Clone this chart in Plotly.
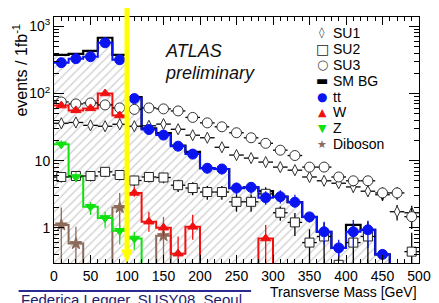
import plotly.graph_objects as go

# ---------------- data (20 GeV bins, 0-500 GeV) ----------------
edges = list(range(0, 520, 20))
centers = [e + 10 for e in edges[:-1]]

su1 = [36, 37, 33.5, 32.5, 34.8, 32.5, 33, 35, 29.3, 23.9, 21.9, 15.8, 12.1, 10.9,
       9.5, 8.0, 7.2, 5.7, 5.0, 4.6, 4.05, 3.5, 3.1, 1.73, 1.67]
su1_err = [2, 2, 2, 2, 2, 2, 2, 2, 2, 1.8, 1.7, 1.4, 1.2, 1.2, 1.1, 1.0, 0.9, 0.8,
           0.8, 0.7, 0.7, 0.6, 0.6, 0.45, 0.45]

su2 = [5.7, 5.9, 5.9, 6.8, 6.1, 5.05, 5.7, 5.6, 4.3, 3.9, 3.4, 3.4, 2.43, 2.43,
       3.2, 1.67, 1.2, 0.6, 0.74, 0.28, 0.6, 0.74, 0, 0, 0.44]
su2_err = [1.0, 1.0, 1.0, 1.1, 1.0, 0.9, 1.0, 1.0, 0.9, 0.85, 0.8, 0.8, 0.7, 0.7,
           0.8, 0.4, 0.45, 0.35, 0.45, 0.25, 0.5, 0.5, 0, 0, 0.4]

su3 = [74.8, 69.9, 72.3, 67.6, 61, 58, 61, 59, 55, 44, 36.5, 31.9, 26, 21.9, 18.1,
       14.3, 11.9, 8.0, 8.0, 5.7, 5.0, 5.0, 3.3, 3.3, 1.46]
su3_err = [3, 3, 3, 3, 3, 3, 3, 3, 3, 2.7, 2.4, 2.2, 2, 1.8, 1.6, 1.5, 1.3, 1.1,
           1.1, 0.9, 0.9, 0.9, 0.7, 0.7, 0.5]

sm_bg = [377, 390, 433, 677, 377, 88, 30.2, 25.8, 16.8, 13.5, 7.7, 7.5, 3.9, 4.0,
         3.5, 2.9, 2.4, 1.45, 0.87, 0.5, 1.1, 0.93, 0.40, 0, 0]

tt = [288, 330, 353, 570, 318, 84, 29, 24, 16.4, 12.5, 7.7, 7.5, 3.9, 4.0, 2.8,
      2.9, 2.4, 1.45, 0.87, 0.5, 0.87, 0.93, 0.40, 0, 0]
tt_eu = [12, 13, 14, 18, 13, 6, 3, 3, 2, 1.8, 1.3, 1.3, 0.8, 0.8, 0.7, 0.7, 0.7,
         0.27, 0.36, 0.16, 0.43, 0.34, 0.07, 0, 0]
tt_ed = [12, 13, 14, 18, 13, 6, 3, 3, 2, 1.8, 1.3, 1.3, 0.8, 0.8, 0.6, 0.6, 0.4,
         0.26, 0.31, 0.13, 0.35, 0.43, 0.04, 0, 0]

w = [66, 56, 60, 100, 47, 3.3, 1.23, 1.0, 0.41, 1.03, 0, 0, 0, 0, 0.69, 0, 0, 0,
     0, 0, 0, 0, 0, 0, 0]
w_eu = [5, 5, 5, 7, 5, 0.8, 0.5, 0.19, 0.33, 0.53, 0, 0, 0, 0, 0.41, 0, 0, 0, 0,
        0, 0, 0, 0, 0, 0]
w_ed = [5, 5, 5, 7, 5, 0.4, 0.36, 0.26, 0.2, 0.37, 0, 0, 0, 0, 0.45, 0, 0, 0, 0,
        0, 0, 0, 0, 0, 0]

z = [17.5, 5.7, 2.05, 1.4, 0.9, 0.69, 0, 0, 0, 0, 0, 0, 0, 0, 0, 0, 0, 0, 0, 0,
     0, 0, 0, 0, 0]
z_eu = [2.5, 1.0, 0.35, 0.33, 0.2, 0.18] + [0] * 19
z_ed = [2.5, 0.9, 0.5, 0.4, 0.34, 0.22] + [0] * 19

dib = [1.1, 0.58, 0, 0, 2.0, 0, 0, 0.76] + [0] * 17
dib_eu = [0.9, 0.45, 0, 0, 1.3, 0, 0, 0.69] + [0] * 17
dib_ed = [0.95, 0.5, 0, 0, 1.3, 0, 0, 0.55] + [0] * 17

cut_value = 100  # GeV

legend_labels = ["SU1", "SU2", "SU3", "SM BG", "tt", "W", "Z", "Diboson"]
legend_glyphs = ["\u25CA", "\u25A1", "\u25CB", "\u25AC", "\u25CF", "\u25B2", "\u25BC", "\u2605"]

# ---------------- styling ----------------
FONT = "Liberation Sans, Arial, Helvetica, sans-serif"
BLUE = "#0a14f0"
RED = "#f01010"
GREEN = "#10e010"
BROWN = "#8c6a5a"
FLOOR = 1e-2  # empty bins drawn below the visible range

def masked(vals):
    return [v if v > 0 else None for v in vals]

def step_y(vals):
    ys = [v if v > 0 else FLOOR for v in vals]
    return ys + [ys[-1]]

fig = go.Figure()

# hatched SM background
fig.add_trace(go.Bar(
    x=centers, y=masked(sm_bg), width=20,
    marker=dict(color="white", line=dict(width=0),
                pattern=dict(shape="/", fgcolor="#a0a0a0", bgcolor="white",
                             size=6, solidity=0.22)),
    showlegend=False, hoverinfo="skip"))

def add_step(vals, color, width=2):
    fig.add_trace(go.Scatter(x=edges, y=step_y(vals), mode="lines",
                             line=dict(color=color, width=width, shape="hv"),
                             showlegend=False, hoverinfo="skip"))

add_step(sm_bg, "black", 2.2)
add_step(dib, BROWN)
add_step(z, GREEN)
add_step(w, RED)
add_step(tt, BLUE)

def add_points(vals, eu, ed, symbol, color, lcolor, size, xerr=False, ecolor=None):
    fig.add_trace(go.Scatter(
        x=centers, y=masked(vals), mode="markers",
        marker=dict(symbol=symbol, color=color, size=size,
                    line=dict(color=lcolor, width=1)),
        error_y=dict(type="data", array=eu, arrayminus=ed, color=ecolor or lcolor,
                     thickness=1.3, width=0),
        error_x=dict(type="constant", value=10 if xerr else 0, color=ecolor or lcolor,
                     thickness=1.3, width=0),
        showlegend=False, hoverinfo="skip"))

add_points(su1, su1_err, su1_err, "diamond-tall", "white", "#333333", 8, True, "black")
add_points(su3, su3_err, su3_err, "circle", "white", "#333333", 10, True, "black")
add_points(su2, su2_err, su2_err, "square", "white", "#222222", 9, True, "black")
add_points(dib, dib_eu, dib_ed, "star", BROWN, BROWN, 9, False, BROWN)
add_points(z, z_eu, z_ed, "triangle-down", GREEN, GREEN, 9, False, GREEN)
add_points(w, w_eu, w_ed, "triangle-up", RED, RED, 9, False, RED)
add_points(tt, tt_eu, tt_ed, "circle", BLUE, BLUE, 10, False, BLUE)

# ---------------- axes ----------------
minor_y = [m * 10 ** d for d in range(-1, 4) for m in range(2, 10)]
fig.update_xaxes(range=[0, 500], dtick=50, tick0=0, ticks="inside", ticklen=8,
                 tickcolor="black", showline=True, linecolor="black", linewidth=1,
                 mirror="allticks", showgrid=False, zeroline=False,
                 tickfont=dict(family=FONT, size=14, color="black"),
                 minor=dict(dtick=10, ticks="inside", ticklen=4, tickcolor="black",
                            showgrid=False))
fig.update_yaxes(type="log", range=[-0.526, 3.14],
                 tickvals=[1, 10, 100, 1000],
                 ticktext=["1", "10", "10<sup>2</sup>", "10<sup>3</sup>"],
                 ticks="inside", ticklen=10, tickcolor="black",
                 showline=True, linecolor="black", linewidth=1, mirror="allticks",
                 showgrid=False, zeroline=False,
                 tickfont=dict(family=FONT, size=14, color="black"),
                 minor=dict(tickvals=minor_y, ticks="inside", ticklen=5,
                            tickcolor="black", showgrid=False))

# ---------------- cut line (yellow arrow) ----------------
fig.add_shape(type="line", xref="x", yref="paper", x0=cut_value, x1=cut_value,
              y0=0.05, y1=1.045, line=dict(color="#ffff00", width=5), layer="above")
fig.add_shape(type="path", xref="x", yref="paper",
              path=f"M {cut_value-8},0.055 L {cut_value+8},0.055 L {cut_value},0 Z",
              fillcolor="#ffff00", line=dict(color="#ffff00", width=0), layer="above")

# ---------------- texts ----------------
ann = []
ann.append(dict(text="<i>ATLAS</i>", x=0.298, y=0.862, xref="paper", yref="paper",
                xanchor="left", yanchor="middle", showarrow=False,
                font=dict(family=FONT, size=18, color="#111111")))
ann.append(dict(text="<i>preliminary</i>", x=0.298, y=0.773, xref="paper", yref="paper",
                xanchor="left", yanchor="middle", showarrow=False,
                font=dict(family=FONT, size=18, color="#111111")))
ann.append(dict(text="events / 1fb<sup>-1</sup>", x=-0.094, y=0.785, xref="paper",
                yref="paper", xanchor="center", yanchor="middle", textangle=-90,
                showarrow=False, font=dict(family=FONT, size=16, color="black")))
ann.append(dict(text="Transverse Mass [GeV]", x=1.0, y=-0.118, xref="paper",
                yref="paper", xanchor="right", yanchor="middle", showarrow=False,
                font=dict(family=FONT, size=14, color="black")))
ann.append(dict(text="Federica Legger, SUSY08, Seoul", x=-0.097, y=-0.104,
                xref="paper", yref="paper", xanchor="left", yanchor="top",
                showarrow=False, font=dict(family=FONT, size=15, color="#1c1c70")))

legend_y_px = [32, 48, 64, 80, 96, 112, 128, 144]
glyph_colors = ["#444444", "#222222", "#444444", "black", BLUE, RED, GREEN, BROWN]
glyph_sizes = [11, 14, 13, 13, 12, 11, 11, 11]
for lab, gl, ypx, gc, gs in zip(legend_labels, legend_glyphs, legend_y_px,
                                glyph_colors, glyph_sizes):
    yp = (263.5 - ypx) / 247.5
    ann.append(dict(text=gl, x=(328 - 54) / 373, y=yp, xref="paper", yref="paper",
                    xanchor="center", yanchor="middle", showarrow=False,
                    font=dict(family="DejaVu Sans", size=gs, color=gc)))
    ann.append(dict(text=lab, x=(337 - 54) / 373, y=yp, xref="paper", yref="paper",
                    xanchor="left", yanchor="middle", showarrow=False,
                    font=dict(family=FONT, size=14, color="black")))

fig.add_shape(type="line", xref="paper", yref="paper", x0=-0.097, x1=0.54,
              y0=-0.114, y1=-0.114, line=dict(color="#2a2a90", width=2))

# the page body adds an 8px offset, so the figure is 8px smaller on each axis
fig.update_layout(width=431, height=295, margin=dict(l=46, r=12, t=8, b=40),
                  paper_bgcolor="white", plot_bgcolor="white", bargap=0,
                  showlegend=False, annotations=ann)

fig.write_html("out.html")
